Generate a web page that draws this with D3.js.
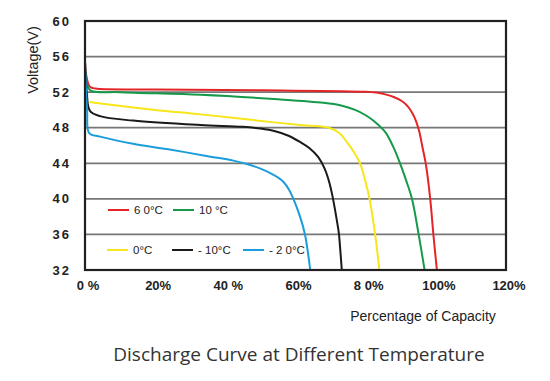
<!DOCTYPE html>
<html>
<head>
<meta charset="utf-8">
<script src="https://cdn.jsdelivr.net/npm/d3@7"></script>
<style>
body { margin: 0; background: #fff; }
text { font-family: Arial, "Liberation Sans", sans-serif; }
</style>
</head>
<body>
<script>
// capacity (%) / voltage (V)
var red60 = [[0,55.3],[0.5,53.6],[1.4,52.6],[3,52.4],[20,52.3],[50,52.2],[80,52.05],[83,51.95],[85.6,51.75],[88,51.45],[90.3,51.0],[92,50.4],[93.2,49.7],[94.3,48.8],[95.2,47.7],[96.2,45.8],[97.2,43.8],[98.4,40],[99.3,36],[100.3,32]];
var green10 = [[0,54.3],[0.5,53],[1.5,52.2],[10,52.0],[33,51.7],[55,51.2],[68,50.8],[73,50.5],[77,50.0],[80,49.4],[82.5,48.7],[85.6,47.5],[87.8,45.9],[89.8,44],[91.6,42],[93.2,40],[95.1,36],[96.8,32]];
var yellow0 = [[1.3,50.9],[5,50.7],[20,50.0],[33,49.5],[54,48.6],[63,48.25],[69.5,48.0],[72.5,47.4],[74.6,46.4],[76.6,45.3],[78.4,44],[79.9,42],[81.1,40],[82.7,36],[83.9,32]];
var blackM10 = [[0,55.5],[0.5,52],[1.4,49.9],[4.3,49.3],[13.7,48.8],[33,48.3],[45,48.1],[50,47.9],[54.2,47.6],[58,47.1],[61.3,46.4],[64,45.7],[66.5,44.7],[68.3,43.4],[69.6,41.9],[70.6,40.2],[71.6,38],[72.4,36],[73.2,32]];
var blueM20 = [[0,55.2],[0.6,50],[1.2,47.4],[4.3,47.0],[13.7,46.2],[23.3,45.6],[35,44.8],[42.3,44.3],[47.1,43.8],[50,43.4],[52.8,42.9],[55,42.4],[56.6,41.9],[58.2,41.0],[59.4,40],[61.3,38],[62.7,36],[64.2,32]];

var yTicks = [32, 36, 40, 44, 48, 52, 56, 60];
var xTicks = [0, 20, 40, 60, 80, 100, 120];
var xTickLabels = ["0 %", "20%", "40 %", "60%", "8 0%", "100%", "120%"];

var seriesNames = ["6 0°C", "10 °C", "0°C", "- 10°C", "- 2 0°C"];
var seriesData = [red60, green10, yellow0, blackM10, blueM20];
var seriesColors = ["#e42528", "#16994a", "#f7e619", "#1a1a1a", "#1c9ddb"];

var width = 550, height = 381;
var margin = {top: 21, right: 44, bottom: 111, left: 85};

var svg = d3.select("body")
    .append("svg")
    .attr("width", width)
    .attr("height", height);

var x = d3.scaleLinear().domain([0, 120]).range([margin.left, width - margin.right]);
var y = d3.scaleLinear().domain([32, 60]).range([height - margin.bottom, margin.top]);

// gridlines
svg.append("g")
    .selectAll("line")
    .data(yTicks.filter(function(d) { return d > 32 && d < 60; }))
    .enter()
        .append("line")
        .attr("x1", x(0))
        .attr("x2", x(120))
        .attr("y1", function(d) { return y(d); })
        .attr("y2", function(d) { return y(d); })
        .attr("stroke", "#777")
        .attr("stroke-width", 1.8);

// y labels
svg.append("g")
    .selectAll("text")
    .data(yTicks)
    .enter()
        .append("text")
        .attr("x", x(0) - 14)
        .attr("y", function(d) { return y(d); })
        .attr("dy", "0.35em")
        .attr("text-anchor", "end")
        .attr("font-size", 13)
        .attr("font-weight", "bold")
        .attr("letter-spacing", 2)
        .attr("fill", "#222")
        .text(function(d) { return d; });

// x labels
svg.append("g")
    .selectAll("text")
    .data(xTicks)
    .enter()
        .append("text")
        .attr("x", function(d) { return x(d) + 3; })
        .attr("y", 290)
        .attr("text-anchor", "middle")
        .attr("font-size", 13)
        .attr("font-weight", "bold")
        .attr("fill", "#222")
        .text(function(d, i) { return xTickLabels[i]; });

var line = d3.line()
    .x(function(d) { return x(d[0]); })
    .y(function(d) { return y(d[1]); })
    .curve(d3.curveCatmullRom.alpha(0.5));

svg.append("g")
    .selectAll("path")
    .data(seriesData)
    .enter()
        .append("path")
        .attr("d", line)
        .attr("fill", "none")
        .attr("stroke", function(d, i) { return seriesColors[i]; })
        .attr("stroke-width", 2);

// frame
svg.append("rect")
    .attr("x", x(0))
    .attr("y", y(60))
    .attr("width", x(120) - x(0))
    .attr("height", y(32) - y(60))
    .attr("fill", "none")
    .attr("stroke", "#231f20")
    .attr("stroke-width", 2.2);

// legend
var legendPos = [[108, 210], [173, 210], [107, 250], [172, 250], [243, 250]];
var legend = svg.append("g")
    .selectAll("g")
    .data(seriesNames)
    .enter()
        .append("g")
        .attr("transform", function(d, i) { return "translate(" + legendPos[i][0] + "," + legendPos[i][1] + ")"; });

legend.append("line")
    .attr("x1", 0)
    .attr("x2", 21)
    .attr("stroke", function(d, i) { return seriesColors[i]; })
    .attr("stroke-width", 2);

legend.append("text")
    .attr("x", 26)
    .attr("dy", "0.35em")
    .attr("font-size", 11.5)
    .attr("fill", "#222")
    .text(function(d) { return d; });

// axis titles
svg.append("text")
    .attr("transform", "translate(38,60) rotate(-90)")
    .attr("text-anchor", "middle")
    .attr("font-size", 14.5)
    .attr("fill", "#222")
    .text("Voltage(V)");

svg.append("text")
    .attr("x", 423)
    .attr("y", 321)
    .attr("text-anchor", "middle")
    .attr("font-size", 14)
    .attr("fill", "#222")
    .text("Percentage of Capacity");

svg.append("text")
    .attr("x", 299)
    .attr("y", 361)
    .attr("text-anchor", "middle")
    .attr("font-size", 19)
    .attr("fill", "#333")
    .style("font-family", "'Open Sans', 'Noto Sans', sans-serif")
    .text("Discharge Curve at Different Temperature");
</script>
</body>
</html>
